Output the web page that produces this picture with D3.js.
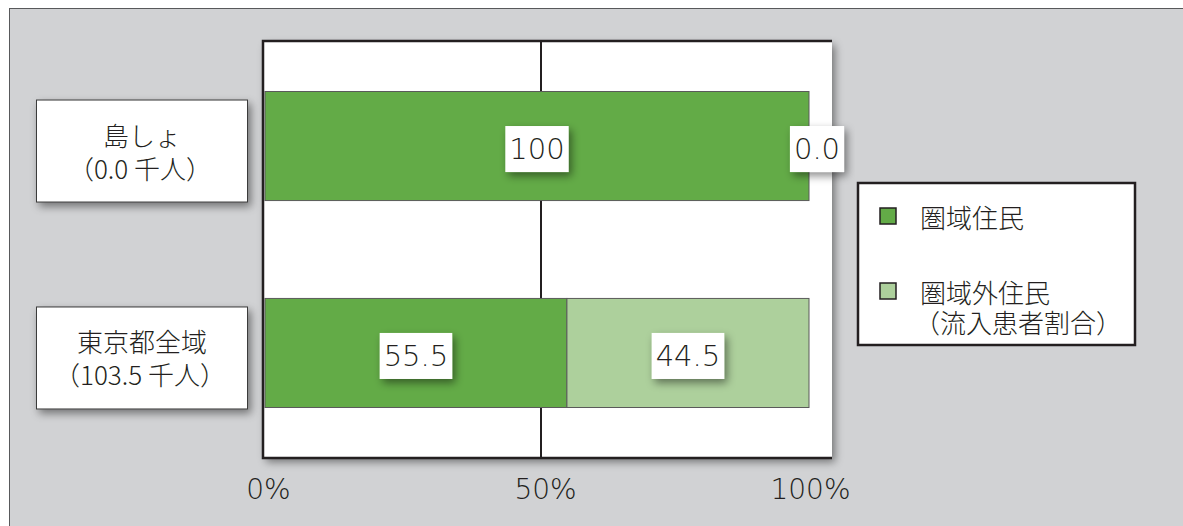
<!DOCTYPE html>
<html>
<head>
<meta charset="utf-8">
<script src="https://cdn.jsdelivr.net/npm/d3@7"></script>
<style>
  body { margin:0; background:#fff; }
  text { font-family: "DejaVu Sans", "Noto Sans CJK JP", sans-serif; fill:#231f20; }
  .jp { font-family: "Noto Sans CJK JP", sans-serif; font-weight:300; }
</style>
</head>
<body>
<div id="chart"></div>
<script>
// データ
const categories=["島しょ","東京都全域"];
const populations=["0.0","103.5"];
const residents=[100,55.5];      // 圏域住民
const outsiders=[0.0,44.5];      // 圏域外住民（流入患者割合）
const tickValues=[0,50,100];
const seriesNames=["圏域住民","圏域外住民"];
const legendSub="（流入患者割合）";
const seriesColors=["#63ab47","#add09c"];

const width=1183, height=526;
const plot={left:263,right:832,top:41,bottom:458};

const svg=d3.select("#chart").append("svg").attr("width",width).attr("height",height);

// 影
const defs=svg.append("defs");
defs.append("filter").attr("id","shadow").attr("x","-20%").attr("y","-20%").attr("width","140%").attr("height","150%")
  .append("feDropShadow").attr("dx",3).attr("dy",4).attr("stdDeviation",4)
  .attr("flood-color","#000").attr("flood-opacity",0.45);

// 背景パネル
svg.append("rect").attr("x",9.5).attr("y",8.5).attr("width",width).attr("height",height)
  .attr("fill","#d1d2d4").attr("stroke","#58595b").attr("stroke-width",1);

// 比例尺
const xScale=d3.scaleLinear().domain([0,100]).range([265,809]);
const yScale=d3.scaleBand().domain(categories).range([plot.top,plot.bottom])
  .paddingInner(0.473).paddingOuter(0.244);

// プロット領域
svg.append("rect").attr("x",plot.left).attr("y",plot.top)
  .attr("width",plot.right-plot.left).attr("height",plot.bottom-plot.top)
  .attr("fill","#fff").attr("filter","url(#shadow)");

// 50% の線
svg.append("g").selectAll("line").data(tickValues.filter(d=>d>0&&d<100)).join("line")
  .attr("x1",d=>xScale(d)+4).attr("x2",d=>xScale(d)+4)
  .attr("y1",plot.top).attr("y2",plot.bottom)
  .attr("stroke","#231f20").attr("stroke-width",2);

// 棒
const stacks=categories.map((c,i)=>{
  return [
    {cat:c,s:0,x0:0,x1:residents[i],v:residents[i]},
    {cat:c,s:1,x0:residents[i],x1:residents[i]+outsiders[i],v:outsiders[i]}
  ];
}).flat();

svg.append("g").selectAll("rect").data(stacks.filter(d=>d.v>0)).join("rect")
  .attr("x",d=>xScale(d.x0)).attr("y",d=>yScale(d.cat))
  .attr("width",d=>xScale(d.x1)-xScale(d.x0)).attr("height",yScale.bandwidth())
  .attr("fill",d=>seriesColors[d.s]).attr("stroke","#5a5a5a").attr("stroke-width",1);

// 枠線（上・左・下）
svg.append("path")
  .attr("d",`M${plot.right},${plot.top}H${plot.left}V${plot.bottom}H${plot.right}`)
  .attr("fill","none").attr("stroke","#231f20").attr("stroke-width",2.5);

// 値ラベル
const valG=svg.append("g");
stacks.forEach(d=>{
  let cx=(xScale(d.x0)+xScale(d.x1))/2;
  if(d.v===0) cx+=8;
  const cy=yScale(d.cat)+yScale.bandwidth()/2+3;
  const g=valG.append("g");
  const t=g.append("text").attr("x",cx).attr("y",cy).attr("text-anchor","middle")
    .attr("dominant-baseline","central").style("font-size","29px").style("font-weight","200")
    .text(d.v===100?"100":d.v.toFixed(1));
  const w=t.node().getBBox().width+8;
  g.insert("rect","text").attr("x",cx-w/2).attr("y",cy-23).attr("width",w).attr("height",46)
    .attr("fill","#fff").attr("filter","url(#shadow)");
});

// カテゴリーラベル
categories.forEach((c,i)=>{
  const cy=yScale(c)+yScale.bandwidth()/2+5;
  const g=svg.append("g");
  g.append("rect").attr("x",36.5).attr("y",cy-51).attr("width",211).attr("height",102)
    .attr("fill","#fff").attr("stroke","#3a3a3a").attr("stroke-width",1).attr("filter","url(#shadow)");
  g.append("text").attr("class","jp").attr("x",142).attr("y",cy-17).attr("text-anchor","middle")
    .attr("dominant-baseline","central").style("font-size","26px").text(c);
  g.append("text").attr("class","jp").attr("x",140).attr("y",cy+16).attr("text-anchor","middle")
    .attr("dominant-baseline","central").style("font-size","26px").text(`（${populations[i]} 千人）`);
});

// 軸
const xAxis=d3.axisBottom(xScale).tickValues(tickValues).tickSize(0).tickPadding(0).tickFormat(d=>d+"%");
const axG=svg.append("g").attr("transform",`translate(0,${plot.bottom+20})`).call(xAxis);
axG.select(".domain").remove();
axG.selectAll("text").attr("dy",null).attr("dominant-baseline","hanging")
  .style("font-size","28px").style("font-weight","200").attr("fill","#231f20")
  .attr("dx",d=>d===50?8:d===0?3:1);

// 凡例
const lg=svg.append("g");
lg.append("rect").attr("x",858).attr("y",183).attr("width",277).attr("height",162)
  .attr("fill","#fff").attr("stroke","#231f20").attr("stroke-width",2.5);
const legendY=[215,290];
seriesNames.forEach((n,i)=>{
  lg.append("rect").attr("x",880).attr("y",legendY[i]-7).attr("width",16).attr("height",16)
    .attr("fill",seriesColors[i]).attr("stroke","#231f20").attr("stroke-width",1.5);
  lg.append("text").attr("class","jp").attr("x",920).attr("y",legendY[i]+1)
    .attr("dominant-baseline","central").style("font-size","26px").text(n);
});
lg.append("text").attr("class","jp").attr("x",914).attr("y",legendY[1]+31)
  .attr("dominant-baseline","central").style("font-size","26px").text(legendSub);
</script>
</body>
</html>
